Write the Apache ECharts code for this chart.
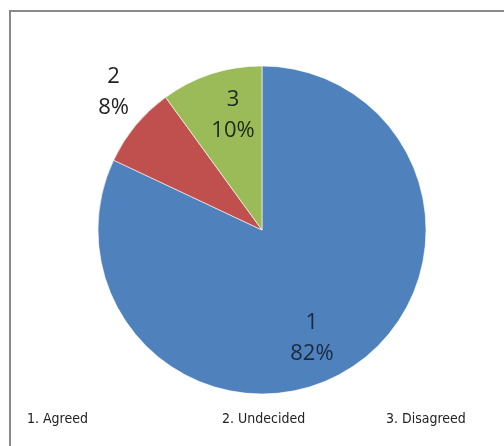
<!DOCTYPE html>
<html><head><meta charset="utf-8">
<script src="https://cdn.jsdelivr.net/npm/echarts@6/dist/echarts.min.js"></script>
<style>html,body{margin:0;padding:0;background:#fff}#c{width:504px;height:446px}</style>
</head><body><div id="c"></div>
<script>
const categories = ['1', '2', '3'];
const legendTexts = ['1. Agreed', '2. Undecided', '3. Disagreed'];
const values = [82, 8, 10];
const colors = ['#4F81BD', '#C0504D', '#9BBB59'];

const chart = echarts.init(document.getElementById('c'));
const center = [262, 230];
const labelFont = { fontFamily: 'Open Sans', fontSize: 22, lineHeight: 31 };

// invisible helper pies that only carry one slice label each
function labelSeries(idx, c, r, color) {
  return {
    type: 'pie', center: c, radius: [0, r], startAngle: 90, clockwise: true, silent: true,
    data: categories.map((name, i) => ({ name, value: values[i], label: { show: i === idx } })),
    itemStyle: { color: 'rgba(0,0,0,0)' },
    label: Object.assign({ position: 'inside', color, formatter: '{b}\n{d}%' }, labelFont),
    labelLine: { show: false }, emphasis: { disabled: true }
  };
}

const legendLefts = [16, 211, 375];
const option = {
  animation: false,
  color: colors,
  graphic: [{
    type: 'rect', shape: { x: 10, y: 11, width: 520, height: 460 },
    style: { fill: 'none', stroke: '#8a8a8a', lineWidth: 2 }, silent: true
  }],
  legend: categories.map((c, i) => ({
    data: [c], left: legendLefts[i], top: 407, itemWidth: 0, itemHeight: 0, itemGap: 0,
    selectedMode: false,
    formatter: () => legendTexts[i],
    textStyle: { fontFamily: 'Liberation Sans Narrow, DejaVu Sans Condensed', fontSize: 14, color: '#222' }
  })),
  series: [
    {
      type: 'pie', center, radius: [0, 164], startAngle: 90, clockwise: true,
      data: categories.map((c, i) => ({ name: c, value: values[i] })),
      label: { show: false }, labelLine: { show: false },
      itemStyle: { borderColor: '#ffffff', borderWidth: 0.6 },
      emphasis: { disabled: true }
    },
    labelSeries(0, [246, 234], 240, '#1c2a40'),
    labelSeries(2, [271, 232], 240, '#1f2a14'),
    labelSeries(1, [270, 222], 400, '#222')
  ]
};
chart.setOption(option);
</script></body></html>
